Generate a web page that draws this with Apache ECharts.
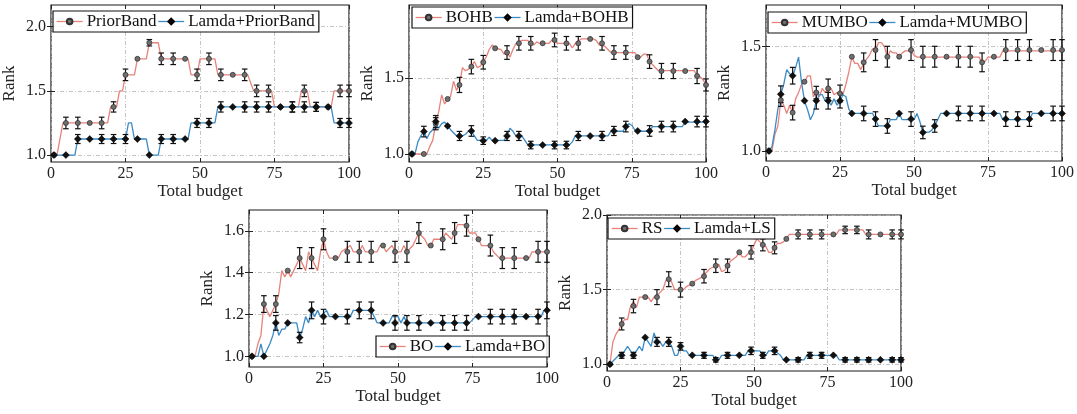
<!DOCTYPE html>
<html><head><meta charset="utf-8">
<script src="https://cdn.jsdelivr.net/npm/echarts@6/dist/echarts.min.js"></script>
<style>html,body{margin:0;padding:0;background:#fff}#c{width:1077px;height:414px}</style>
</head><body><div id="c"></div><script>
// ---------- data ----------
const BUDGETS = [1,5,9,13,17,21,25,29,33,37,41,45,49,53,57,61,65,69,73,77,81,85,89,93,97,100];
const X_TICKS = [0,25,50,75,100];

// Panel 1: PriorBand
const PB_TICKS = [1.0,1.5,2.0];
const PB_MEAN = [1.0,1.25,1.25,1.25,1.25,1.375,1.625,1.75,1.875,1.75,1.75,1.75,1.625,1.75,1.625,1.625,1.625,1.5,1.5,1.375,1.375,1.5,1.375,1.375,1.5,1.5];
const PB_ERR  = [0,.045,.045,0,.045,.04,.045,0,.025,.045,.045,0,.045,.045,.045,0,.045,.045,.045,0,.04,.045,.035,0,.045,.045];
const LPB_MEAN = [1.0,1.0,1.125,1.125,1.125,1.125,1.125,1.125,1.0,1.125,1.125,1.125,1.25,1.25,1.375,1.375,1.375,1.375,1.375,1.375,1.375,1.375,1.375,1.375,1.25,1.25];
const LPB_ERR  = [0,0,.035,0,.035,.035,.035,0,0,.035,.035,0,.035,.035,.04,0,.04,.04,.04,0,.04,.04,.035,0,.035,.035];
const PB_LINE = [[1,1],[2,1],[4,1.25],[19,1.25],[20,1.375],[22,1.375],[23,1.5],[24,1.5],[25,1.625],[28,1.625],[29,1.75],[32,1.75],[33,1.875],[36,1.875],[37,1.75],[46,1.75],[47,1.625],[49,1.625],[50,1.75],[55,1.75],[56,1.625],[66,1.625],[68,1.5],[74,1.5],[75,1.375],[83,1.375],[84,1.5],[86,1.5],[87,1.375],[94,1.375],[95,1.5],[100,1.5]];
const LPB_LINE = [[1,1],[8,1],[9,1.125],[25,1.125],[26,1.25],[27,1.25],[28,1.125],[32,1.125],[33,1],[36,1],[37,1.125],[46,1.125],[47,1.25],[55,1.25],[56,1.375],[94,1.375],[95,1.25],[100,1.25]];

// Panel 2: BOHB
const BOHB_TICKS = [1.0,1.5];
const BOHB_MEAN = [1.0,1.0,1.2,1.363,1.456,1.577,1.606,1.698,1.67,1.731,1.731,1.731,1.753,1.731,1.731,1.76,1.731,1.67,1.67,1.639,1.61,1.548,1.548,1.548,1.515,1.456];
const BOHB_ERR  = [0,0,.04,0,.05,.048,.045,0,.045,.045,.045,0,.045,.045,.045,0,.045,.045,.045,0,.045,.05,.05,0,.05,.04];
const LBOHB_MEAN = [1.0,1.148,1.214,1.185,1.119,1.152,1.088,1.088,1.119,1.119,1.059,1.059,1.059,1.059,1.119,1.119,1.119,1.152,1.181,1.152,1.152,1.181,1.181,1.214,1.214,1.214];
const LBOHB_ERR  = [0,.035,.04,0,.03,.035,.025,0,.03,.03,.025,0,.025,.025,.03,0,.03,.03,.035,0,.035,.035,.035,0,.035,.035];
const BOHB_LINE = [[1,1],[6,1],[7,1.05],[8,1.09],[9,1.2],[10,1.28],[11,1.39],[12,1.33],[13,1.36],[14,1.38],[15,1.48],[16,1.42],[17,1.46],[18,1.57],[19,1.55],[20,1.56],[21,1.58],[22,1.61],[23,1.57],[24,1.58],[25,1.61],[26,1.64],[27,1.69],[28,1.72],[29,1.7],[31,1.69],[32,1.66],[33,1.67],[34,1.64],[35,1.69],[36,1.73],[38,1.75],[40,1.75],[41,1.73],[42,1.72],[43,1.74],[44,1.73],[47,1.73],[48,1.75],[49,1.75],[50,1.73],[54,1.73],[55,1.7],[56,1.73],[58,1.76],[62,1.76],[63,1.75],[64,1.72],[66,1.71],[68,1.67],[76,1.67],[77,1.64],[78,1.64],[79,1.66],[80,1.66],[81,1.61],[83,1.57],[84,1.55],[96,1.55],[97,1.52],[98,1.51],[99,1.49],[100,1.46]];
const LBOHB_LINE = [[1,1],[2,1],[3,1.08],[4,1.12],[5,1.15],[6,1.1],[7,1.14],[8,1.16],[9,1.21],[10,1.17],[11,1.2],[12,1.21],[13,1.19],[14,1.16],[15,1.14],[16,1.12],[18,1.12],[19,1.13],[20,1.15],[21,1.15],[22,1.12],[23,1.09],[26,1.09],[27,1.11],[28,1.09],[32,1.09],[33,1.12],[34,1.17],[35,1.15],[36,1.12],[38,1.12],[39,1.09],[40,1.06],[54,1.06],[55,1.08],[56,1.12],[67,1.12],[68,1.15],[72,1.15],[73,1.18],[74,1.2],[75,1.19],[76,1.16],[77,1.15],[81,1.15],[82,1.18],[92,1.18],[93,1.21],[100,1.21]];

// Panel 3: MUMBO
const MUMBO_TICKS = [1.0,1.5];
const MUMBO_MEAN = [1.0,1.244,1.184,1.332,1.28,1.3,1.276,1.452,1.425,1.484,1.452,1.452,1.484,1.452,1.452,1.452,1.452,1.452,1.425,1.452,1.484,1.484,1.484,1.484,1.484,1.484];
const MUMBO_ERR  = [0,.03,.035,0,.03,.045,.04,0,.045,.05,.05,0,.05,.05,.05,0,.05,.05,.045,0,.05,.05,.05,0,.05,.05];
const LMUMBO_MEAN = [1.0,1.272,1.361,1.241,1.241,1.241,1.241,1.18,1.18,1.153,1.12,1.18,1.153,1.089,1.12,1.18,1.18,1.18,1.18,1.18,1.153,1.153,1.153,1.18,1.18,1.18];
const LMUMBO_ERR  = [0,.04,.04,0,.04,.04,.035,0,.035,.035,.035,0,.035,.03,.03,0,.035,.035,.035,0,.035,.035,.035,0,.035,.035];
const MUMBO_LINE = [[1,1],[2,1],[3,1.08],[4,1.12],[5,1.24],[6,1.22],[7,1.18],[8,1.22],[9,1.18],[10,1.25],[11,1.28],[12,1.32],[13,1.33],[14,1.36],[15,1.36],[16,1.26],[17,1.28],[18,1.26],[19,1.3],[20,1.28],[21,1.3],[22,1.3],[23,1.27],[24,1.28],[26,1.27],[27,1.32],[28,1.38],[29,1.45],[30,1.42],[31,1.42],[32,1.39],[33,1.42],[34,1.44],[35,1.46],[36,1.49],[37,1.48],[38,1.52],[39,1.52],[40,1.5],[41,1.45],[42,1.48],[43,1.47],[44,1.47],[45,1.45],[46,1.47],[47,1.48],[49,1.48],[50,1.46],[51,1.45],[72,1.45],[73,1.42],[74,1.43],[75,1.45],[79,1.45],[80,1.48],[100,1.48]];
const LMUMBO_LINE = [[1,1],[2,1.02],[3,1.1],[4,1.2],[5,1.27],[6,1.32],[7,1.39],[8,1.37],[9,1.36],[10,1.4],[11,1.45],[12,1.33],[13,1.24],[14,1.2],[15,1.15],[16,1.18],[17,1.24],[18,1.27],[19,1.27],[20,1.24],[21,1.24],[22,1.22],[23,1.25],[24,1.22],[25,1.24],[26,1.27],[27,1.26],[28,1.2],[29,1.18],[36,1.18],[37,1.15],[38,1.12],[41,1.12],[42,1.15],[44,1.15],[45,1.18],[46,1.15],[50,1.15],[51,1.18],[52,1.14],[53,1.09],[55,1.09],[56,1.1],[57,1.12],[59,1.18],[79,1.18],[80,1.15],[89,1.15],[90,1.18],[100,1.18]];

// Panel 4: BO
const BO_TICKS = [1.0,1.2,1.4,1.6];
const BO_MEAN = [1.0,1.25,1.25,1.41,1.47,1.47,1.56,1.47,1.5,1.5,1.5,1.53,1.5,1.5,1.59,1.53,1.56,1.59,1.625,1.56,1.53,1.47,1.47,1.47,1.5,1.5];
const BO_ERR  = [0,.04,.04,0,.05,.05,.05,0,.05,.05,.05,0,.05,.05,.05,0,.05,.05,.05,0,.05,.05,.05,0,.05,.05];
const LBO_MEAN = [1.0,1.0,1.16,1.16,1.09,1.22,1.19,1.19,1.19,1.22,1.22,1.16,1.16,1.16,1.16,1.16,1.16,1.16,1.16,1.19,1.19,1.19,1.19,1.19,1.19,1.22];
const LBO_ERR  = [0,0,.035,0,.025,.04,.035,0,.035,.04,.04,0,.035,.035,.035,0,.035,.035,.035,0,.035,.035,.035,0,.035,.04];
const BO_LINE = [[1,1],[2,1],[3,1.06],[4,1.1],[5,1.25],[6,1.22],[7,1.19],[8,1.22],[9,1.25],[10,1.3],[11,1.41],[12,1.38],[13,1.41],[14,1.38],[15,1.41],[16,1.44],[17,1.47],[18,1.44],[19,1.41],[20,1.5],[21,1.47],[22,1.44],[23,1.41],[24,1.5],[25,1.56],[26,1.5],[27,1.47],[30,1.47],[31,1.5],[34,1.53],[35,1.5],[37,1.5],[38,1.53],[39,1.5],[43,1.5],[44,1.53],[45,1.53],[46,1.5],[48,1.53],[49,1.5],[51,1.5],[52,1.53],[53,1.5],[55,1.53],[57,1.59],[59,1.56],[60,1.53],[61,1.53],[62,1.56],[65,1.56],[66,1.59],[68,1.56],[69,1.59],[70,1.63],[72,1.63],[73,1.625],[74,1.59],[76,1.59],[77,1.56],[78,1.53],[81,1.53],[82,1.5],[84,1.47],[94,1.47],[95,1.5],[100,1.5]];
const LBO_LINE = [[1,1],[3,1],[4,1.06],[5,1],[6,1.03],[7,1.06],[8,1.1],[9,1.16],[10,1.1],[11,1.13],[12,1.13],[13,1.16],[16,1.16],[17,1.09],[18,1.13],[19,1.19],[20,1.16],[21,1.22],[22,1.19],[23,1.22],[24,1.19],[26,1.22],[27,1.19],[34,1.19],[35,1.22],[41,1.22],[42,1.19],[43,1.16],[47,1.16],[48,1.19],[50,1.19],[51,1.16],[52,1.19],[53,1.16],[74,1.16],[76,1.19],[98,1.19],[99,1.22],[100,1.22]];

// Panel 5: RS
const RS_TICKS = [1.0,1.5,2.0];
const RS_MEAN = [1.0,1.27,1.39,1.45,1.45,1.57,1.5,1.54,1.59,1.66,1.66,1.75,1.75,1.8,1.78,1.84,1.87,1.87,1.87,1.87,1.9,1.9,1.87,1.87,1.87,1.87];
const RS_ERR  = [0,.04,.045,0,.05,.05,.05,0,.045,.045,.045,0,.045,.04,.04,0,.03,.03,.03,0,.025,.025,.03,0,.03,.03];
const LLS_MEAN = [1.0,1.06,1.06,1.18,1.15,1.15,1.12,1.06,1.06,1.03,1.06,1.06,1.09,1.06,1.09,1.03,1.03,1.06,1.06,1.06,1.03,1.03,1.03,1.03,1.03,1.03];
const LLS_ERR  = [0,.02,.02,0,.03,.03,.025,0,.02,.015,.02,0,.025,.02,.025,0,.015,.02,.02,0,.015,.015,.015,0,.015,.015];
const RS_LINE = [[1,1],[2,1.15],[3,1.2],[4,1.23],[5,1.27],[6,1.3],[7,1.3],[8,1.39],[9,1.42],[10,1.38],[11,1.45],[14,1.45],[15,1.42],[16,1.45],[17,1.46],[18,1.48],[19,1.5],[20,1.56],[21,1.58],[22,1.55],[23,1.5],[26,1.5],[27,1.52],[28,1.53],[29,1.54],[30,1.56],[31,1.57],[32,1.58],[33,1.6],[34,1.62],[35,1.64],[37,1.66],[38,1.67],[39,1.62],[40,1.63],[41,1.66],[42,1.69],[44,1.72],[45,1.75],[46,1.72],[47,1.72],[48,1.74],[49,1.75],[50,1.8],[51,1.84],[52,1.82],[53,1.8],[54,1.79],[55,1.75],[56,1.75],[57,1.78],[58,1.81],[59,1.81],[60,1.82],[61,1.84],[62,1.87],[78,1.87],[79,1.9],[87,1.9],[88,1.87],[100,1.87]];
const LLS_LINE = [[1,1],[3,1.04],[4,1.06],[5,1.06],[6,1.09],[7,1.12],[8,1.09],[9,1.06],[10,1.09],[11,1.12],[12,1.09],[13,1.18],[14,1.15],[15,1.12],[16,1.21],[17,1.15],[18,1.15],[19,1.12],[20,1.15],[21,1.15],[22,1.12],[23,1.06],[24,1.06],[25,1.12],[26,1.09],[27,1.09],[28,1.06],[36,1.06],[37,1.03],[38,1.03],[39,1.06],[47,1.06],[48,1.09],[52,1.09],[53,1.06],[54,1.06],[55,1.09],[57,1.09],[59,1.06],[60,1.03],[67,1.03],[68,1.06],[78,1.06],[79,1.03],[100,1.03]];

// ---------- styling / layout ----------
const FONT = '"Liberation Serif", "Times New Roman", serif';
const RED = '#e8837c', BLUE = '#3b8bc6';
const panels = [
  {grid:{left:51,top:5,width:298,height:157}, y:[0.946,2.169], ticks:PB_TICKS, legend:{left:53,top:11},
   base:'PriorBand', lam:'Lamda+PriorBand', bL:PB_LINE, lL:LPB_LINE, bM:PB_MEAN, bE:PB_ERR, lM:LPB_MEAN, lE:LPB_ERR},
  {grid:{left:409,top:5,width:297,height:157}, y:[0.947,1.984], ticks:BOHB_TICKS, legend:{left:412,top:7},
   base:'BOHB', lam:'Lamda+BOHB', bL:BOHB_LINE, lL:LBOHB_LINE, bM:BOHB_MEAN, bE:BOHB_ERR, lM:LBOHB_MEAN, lE:LBOHB_ERR},
  {grid:{left:766,top:5,width:298,height:156}, y:[0.952,1.70], ticks:MUMBO_TICKS, legend:{left:768,top:12},
   base:'MUMBO', lam:'Lamda+MUMBO', bL:MUMBO_LINE, lL:LMUMBO_LINE, bM:MUMBO_MEAN, bE:MUMBO_ERR, lM:LMUMBO_MEAN, lE:LMUMBO_ERR},
  {grid:{left:249,top:210,width:298,height:157}, y:[0.949,1.70], ticks:BO_TICKS, legend:{left:376,top:336},
   base:'BO', lam:'Lamda+BO', bL:BO_LINE, lL:LBO_LINE, bM:BO_MEAN, bE:BO_ERR, lM:LBO_MEAN, lE:LBO_ERR},
  {grid:{left:607,top:215,width:294,height:156}, y:[0.955,2.0], ticks:RS_TICKS, legend:{left:608,top:218},
   base:'RS', lam:'Lamda+LS', bL:RS_LINE, lL:LLS_LINE, bM:RS_MEAN, bE:RS_ERR, lM:LLS_MEAN, lE:LLS_ERR}
];

const gridLine = {show:true, lineStyle:{color:'#b5b5b5', width:0.8, type:[4,2,1,2]}};
const tick = {show:true, inside:true, length:4, lineStyle:{color:'#222', width:1}};

function errRender(params, api) {
  const x = api.value(0), lo = api.value(1), hi = api.value(2);
  const a = api.coord([x, lo]), b = api.coord([x, hi]);
  const w = 2.8, st = {stroke:'#111', lineWidth:1.2};
  return {type:'group', children:[
    {type:'line', shape:{x1:a[0],y1:a[1],x2:b[0],y2:b[1]}, style:st},
    {type:'line', shape:{x1:a[0]-w,y1:a[1],x2:a[0]+w,y2:a[1]}, style:st},
    {type:'line', shape:{x1:b[0]-w,y1:b[1],x2:b[0]+w,y2:b[1]}, style:st}
  ]};
}
const errData = (m, e) => BUDGETS.map((b,k)=>[b, m[k]-e[k], m[k]+e[k], e[k]]).filter(d => d[3] > 0);
const ptData = (m) => BUDGETS.map((b,k)=>[b, m[k]]);

const option = {animation:false, backgroundColor:'#fff', grid:[], xAxis:[], yAxis:[], series:[], legend:[]};
panels.forEach((p, i) => {
  option.grid.push(Object.assign({show:true, borderColor:'#1a1a1a', borderWidth:1.2, containLabel:false}, p.grid));
  const xb = {type:'value', gridIndex:i, min:0, max:100, interval:25,
    axisLine:{show:false}, axisTick:tick, splitLine:gridLine,
    axisLabel:{fontFamily:FONT, fontSize:16, color:'#222', margin:4, formatter:v=>String(v)},
    name:'Total budget', nameLocation:'middle', nameGap:19, nameTextStyle:{fontFamily:FONT, fontSize:17, color:'#222'}};
  const xt = {type:'value', gridIndex:i, position:'top', min:0, max:100, interval:25,
    axisLine:{show:false}, axisTick:tick, splitLine:{show:false}, axisLabel:{show:false}};
  const yl = {type:'value', gridIndex:i, min:p.y[0], max:p.y[1],
    axisLine:{show:false}, axisTick:Object.assign({customValues:p.ticks}, tick), splitLine:gridLine,
    axisLabel:{customValues:p.ticks, fontFamily:FONT, fontSize:16, color:'#222', margin:5, formatter:v=>v.toFixed(1)},
    name:'Rank', nameLocation:'middle', nameGap:33, nameTextStyle:{fontFamily:FONT, fontSize:17, color:'#222'}};
  const yr = {type:'value', gridIndex:i, position:'right', min:p.y[0], max:p.y[1],
    axisLine:{show:false}, axisTick:Object.assign({customValues:p.ticks}, tick), splitLine:{show:false}, axisLabel:{show:false}};
  option.xAxis.push(xb, xt);
  option.yAxis.push(yl, yr);
  const xi = 2*i, yi = 2*i;
  option.series.push(
    {type:'line', name:p.base+' curve', xAxisIndex:xi, yAxisIndex:yi, data:p.bL, symbol:'none', lineStyle:{color:RED, width:1.3}, z:2, silent:true},
    {type:'line', name:p.lam+' curve', xAxisIndex:xi, yAxisIndex:yi, data:p.lL, symbol:'none', lineStyle:{color:BLUE, width:1.3}, z:2, silent:true},
    {type:'custom', xAxisIndex:xi, yAxisIndex:yi, data:errData(p.bM, p.bE), renderItem:errRender, clip:false, z:3, silent:true},
    {type:'custom', xAxisIndex:xi, yAxisIndex:yi, data:errData(p.lM, p.lE), renderItem:errRender, clip:false, z:3, silent:true},
    {type:'line', name:p.base, xAxisIndex:xi, yAxisIndex:yi, data:ptData(p.bM), symbol:'circle', symbolSize:5, showSymbol:true,
     lineStyle:{color:RED, opacity:0}, itemStyle:{color:'#6f6f6f', borderColor:'#333', borderWidth:0.8}, clip:false, z:4, silent:true},
    {type:'line', name:p.lam, xAxisIndex:xi, yAxisIndex:yi, data:ptData(p.lM), symbol:'diamond', symbolSize:7, showSymbol:true,
     lineStyle:{color:BLUE, opacity:0}, itemStyle:{color:'#111', borderColor:'#000', borderWidth:0.5}, clip:false, z:4, silent:true}
  );
  option.legend.push({left:p.legend.left, top:p.legend.top, orient:'horizontal', selectedMode:false,
    itemGap:1, itemWidth:26, itemHeight:7, padding:[2,4,2,3],
    borderColor:'#111', borderWidth:1.2, borderRadius:0, backgroundColor:'rgba(255,255,255,0.85)',
    textStyle:{fontFamily:FONT, fontSize:17, color:'#111', padding:[0,0,0,-1]},
    data:[{name:p.base, lineStyle:{color:RED, opacity:1, width:1.3}},
          {name:p.lam, lineStyle:{color:BLUE, opacity:1, width:1.3}}]});
});

const chart = echarts.init(document.getElementById('c'), null, {renderer:'canvas'});
chart.setOption(option);
</script></body></html>
